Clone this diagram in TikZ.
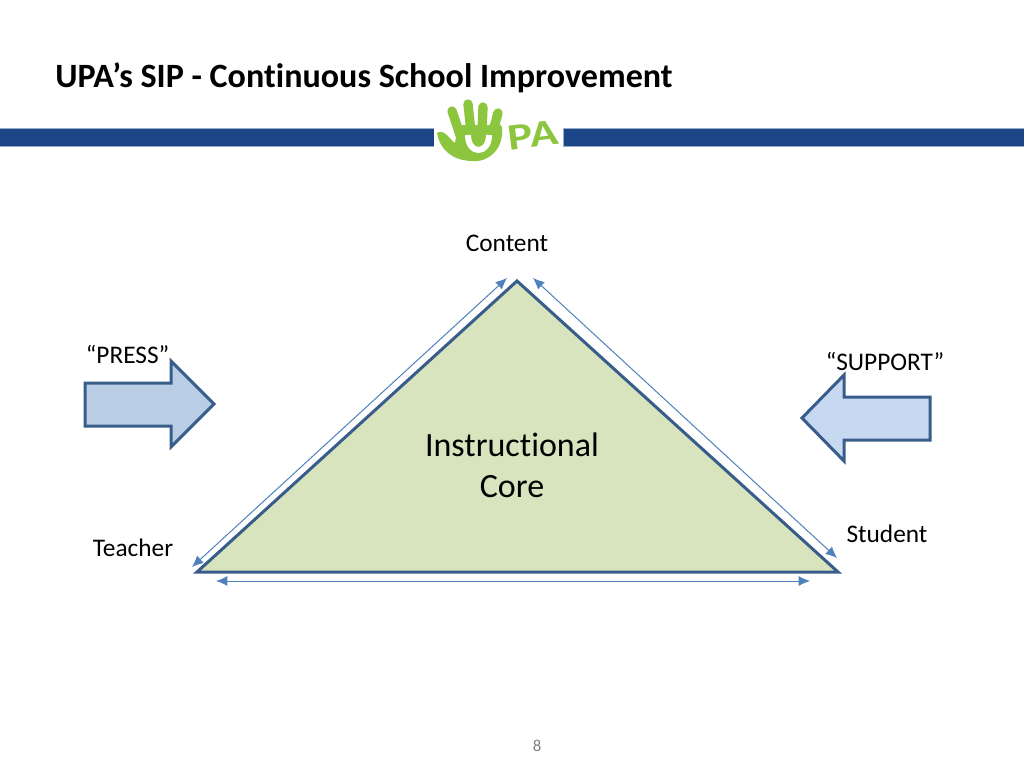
\documentclass[tikz,border=0pt]{standalone}
\usepackage{fontspec}
\setmainfont[Ligatures=NoCommon]{Carlito}
\definecolor{barblue}{HTML}{1C4587}
\definecolor{edgeblue}{HTML}{385D8A}
\definecolor{thinblue}{HTML}{4F81BD}
\definecolor{coregreen}{HTML}{D7E4BD}
\definecolor{pressfill}{HTML}{B9CDE5}
\definecolor{supportfill}{HTML}{C6D9F1}
\definecolor{logogreen}{HTML}{8CC63F}
\usetikzlibrary{arrows.meta}
\tikzset{
  x=0.75pt,y=-0.75pt,
  lbl/.style={inner sep=0pt,font=\fontsize{19}{23}\selectfont,text=black},
  bigarrow/.style={draw=edgeblue,line width=2.25pt,line join=miter},
  thin arrow/.style={draw=thinblue,line width=0.75pt,{Latex[length=8.5pt,width=7.5pt]}-{Latex[length=8.5pt,width=7.5pt]}},
  bar/.style={fill=barblue,draw=barblue!45,line width=0.75pt},
  finger/.style={draw=logogreen,line width=7pt,line cap=round},
}
\begin{document}
\begin{tikzpicture}
\useasboundingbox (0,0) rectangle (1024,768);
\fill[white] (0,0) rectangle (1024,768);
% title and bars
\node[anchor=west,inner sep=0pt,font=\fontsize{25.55}{29}\selectfont\bfseries] (title) at (55,78) {UPA’s SIP - Continuous School Improvement};
\draw[bar] (-2,128) rectangle (434,146);
\draw[bar] (563,128) rectangle (1026,146);
% logo
\fill[white] (434,100) rectangle (563,165);
\fill[logogreen] (437,133) .. controls (444,128) and (450,140) .. (455,143)
  -- (458,125) -- (496,125)
  .. controls (500,125) and (503,122) .. (502,135)
  .. controls (501,150) and (488,163) .. (471,161)
  .. controls (452,160) and (440,150) .. (437,133) -- cycle;
\draw[finger] (452,111) -- (461,138);
\draw[finger] (468,104) -- (471,132);
\draw[finger] (483,107) -- (482,132);
\draw[finger] (498,113) -- (492,135);
\draw[white,line width=4.5pt,line cap=butt] (468,135) .. controls (468,155) and (489,155) .. (489,135);
\node[rotate=7,inner sep=0pt,text=logogreen,xscale=1.25,font=\fontsize{28}{30}\selectfont\bfseries] (logotext) at (533,135) {PA};
% triangle
\coordinate (apex) at (517,281);
\coordinate (teacher) at (197,572);
\coordinate (student) at (838,572);
\filldraw[fill=coregreen,draw=edgeblue,line width=2.25pt,line join=miter] (apex) -- (student) -- (teacher) -- cycle;
% thin arrows
\coordinate (a1) at (192,567); \coordinate (a2) at (507,278);
\coordinate (b1) at (533,278); \coordinate (b2) at (837,558);
\coordinate (c1) at (216,581); \coordinate (c2) at (810,581);
\draw[thin arrow] (a1) -- (a2);
\draw[thin arrow] (b1) -- (b2);
\draw[thin arrow] (c1) -- (c2);
% block arrows
\filldraw[fill=pressfill,bigarrow] (85,383) -- (171,383) -- (171,361) -- (214,404) -- (171,447) -- (171,426) -- (85,426) -- cycle;
\filldraw[fill=supportfill,bigarrow] (930,397) -- (844,397) -- (844,375) -- (802,418) -- (844,461) -- (844,440) -- (930,440) -- cycle;
% labels
\node[lbl] (content) at (507,243) {Content};
\node[lbl] (press) at (127.5,354) {“PRESS”};
\node[lbl] (support) at (885,361) {“SUPPORT”};
\node[lbl] (tlabel) at (133,548) {Teacher};
\node[lbl] (slabel) at (887,534) {Student};
\node[inner sep=0pt,align=center,font=\fontsize{25.5}{30.75}\selectfont] (core) at (512,465) {Instructional\\Core};
\node[inner sep=0pt,text=black!50,font=\fontsize{12.5}{14}\selectfont] (page) at (537,746) {8};
\end{tikzpicture}
\end{document}
